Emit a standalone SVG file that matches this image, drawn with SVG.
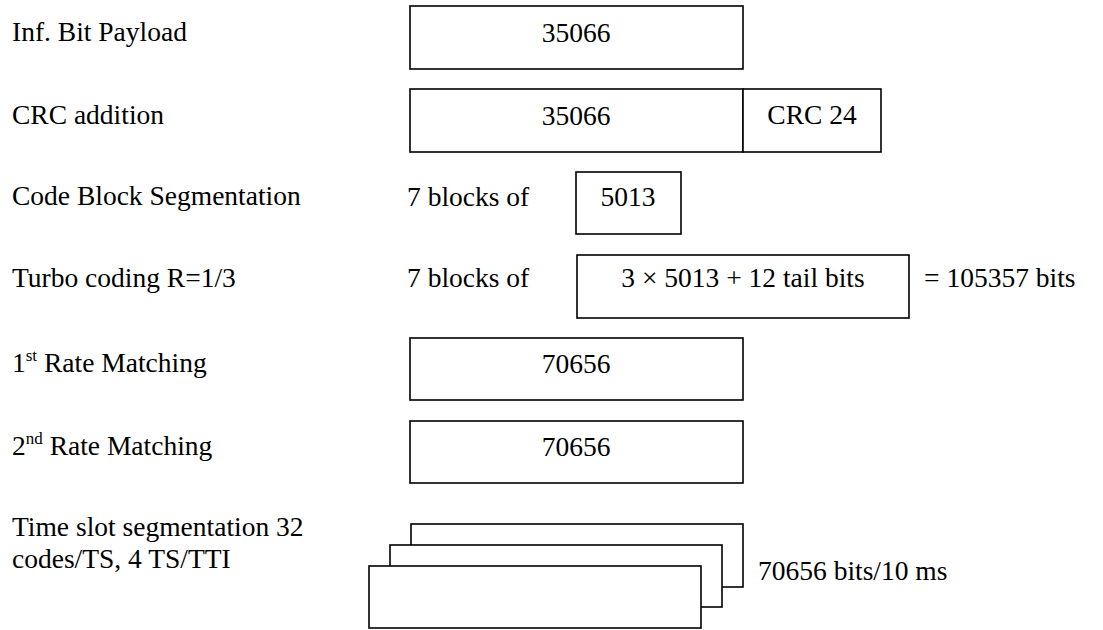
<svg xmlns="http://www.w3.org/2000/svg" width="1103" height="630" viewBox="0 0 1103 630">
<style>
text{font-family:"Liberation Serif","Times New Roman",serif;font-size:27.5px;fill:#000}
.c{text-anchor:middle}
.b{fill:#fff;stroke:#000;stroke-width:1.6}
.sup{font-size:17px}
</style>
<rect width="1103" height="630" fill="#fff"/>
<g id="labels">
<text x="12" y="41">Inf. Bit Payload</text>
<text x="12" y="124">CRC addition</text>
<text x="12" y="205">Code Block Segmentation</text>
<text x="12" y="287">Turbo coding R=1/3</text>
<text x="12" y="372">1<tspan class="sup" dy="-11">st</tspan><tspan dy="11"> Rate Matching</tspan></text>
<text x="12" y="455">2<tspan class="sup" dy="-11">nd</tspan><tspan dy="11"> Rate Matching</tspan></text>
<text x="12" y="536">Time slot segmentation 32</text>
<text x="12" y="568">codes/TS, 4 TS/TTI</text>
</g>
<g id="payload">
<rect class="b" x="410" y="6" width="333" height="63"/>
<text class="c" x="576" y="42">35066</text>
</g>
<g id="crc">
<rect class="b" x="410" y="89" width="333" height="63"/>
<text class="c" x="576" y="125">35066</text>
<rect class="b" x="743" y="89" width="138" height="63"/>
<text class="c" x="812" y="124">CRC 24</text>
</g>
<g id="segmentation">
<text x="407" y="206">7 blocks of</text>
<rect class="b" x="576" y="172" width="105" height="62"/>
<text class="c" x="628" y="206">5013</text>
</g>
<g id="turbo">
<text x="407" y="287">7 blocks of</text>
<rect class="b" x="577" y="255" width="332" height="63"/>
<text class="c" x="743" y="287">3 × 5013 + 12 tail bits</text>
<text x="924" y="287">= 105357 bits</text>
</g>
<g id="rm1">
<rect class="b" x="410" y="338" width="333" height="62"/>
<text class="c" x="576" y="373">70656</text>
</g>
<g id="rm2">
<rect class="b" x="410" y="421" width="333" height="62"/>
<text class="c" x="576" y="456">70656</text>
</g>
<g id="timeslots">
<rect class="b" x="411" y="524" width="332" height="63"/>
<rect class="b" x="390" y="545" width="332" height="62"/>
<rect class="b" x="369" y="566" width="332" height="62"/>
<text x="758" y="580">70656 bits/10 ms</text>
</g>
<g id="connectors"></g>
</svg>
